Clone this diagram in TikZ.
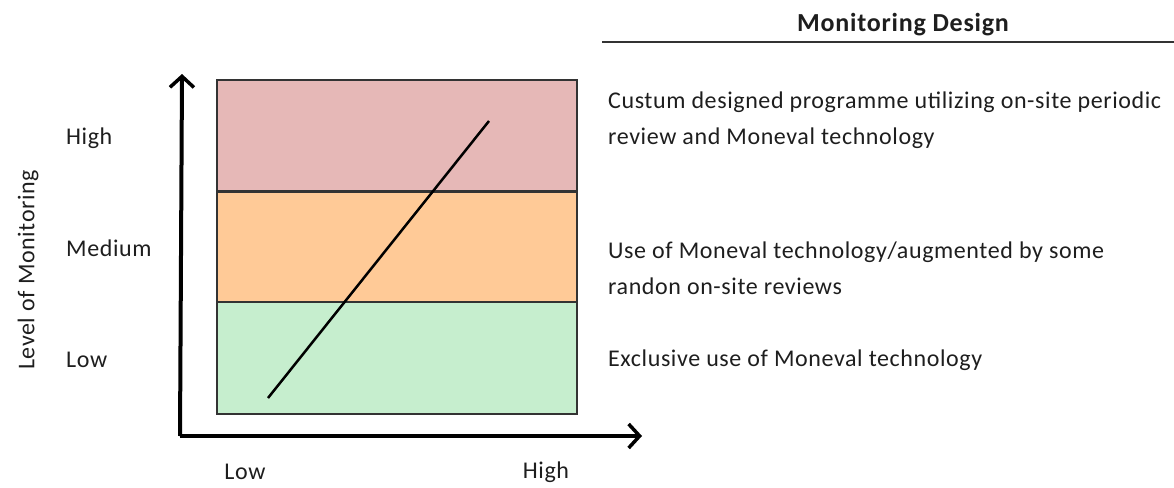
\documentclass[tikz,border=0pt]{standalone}
\usepackage{fontspec}
\setmainfont{Carlito}[LetterSpace=2.5]
\newfontfamily\titlefont{Carlito}[LetterSpace=3]
\usetikzlibrary{arrows.meta}
\definecolor{bandhigh}{HTML}{E6B8B7}
\definecolor{bandmed}{HTML}{FFCA97}
\definecolor{bandlow}{HTML}{C6EECE}
\definecolor{txt}{HTML}{1E1E1E}
\begin{document}
\begin{tikzpicture}[x=1pt,y=-1pt,
  band/.style={draw=black!80, line width=1.3pt, minimum width=360pt, minimum height=111pt, anchor=north west, inner sep=0pt, outer sep=0pt},
  lbl/.style={font=\fontsize{24}{28}\selectfont, text=txt, inner sep=0pt},
  desc/.style={font=\fontsize{24}{36}\selectfont, text=txt, inner sep=0pt, anchor=west, align=left},
  axis/.style={line width=4pt, -{Straight Barb[length=11pt,width=24pt,line width=3.5pt]}}]
\useasboundingbox (0,0) rectangle (1174,487);
% bands
\node[band, fill=bandhigh] (bh) at (217,80) {};
\node[band, fill=bandmed, minimum height=110pt] (bm) at (217,192) {};
\node[band, fill=bandlow, minimum height=112pt] (bl) at (217,302) {};
% trend line
\coordinate (t0) at (268,398);
\coordinate (t1) at (489,121);
\draw[line width=2.5pt] (t0) -- (t1);
% axes
\coordinate (o) at (182,436);
\coordinate (ytip) at (182,74);
\coordinate (xtip) at (642,436);
\draw[axis] ([xshift=-2pt]o) -- (ytip);
\draw[axis] ([xshift=-2pt]o) -- (xtip);
% axis labels
\node[lbl, anchor=west] (yh) at (66,138) {High};
\node[lbl, anchor=west] (ym) at (66,248) {Medium};
\node[lbl, anchor=west] (yl) at (66,360) {Low};
\node[lbl, rotate=90] (ytitle) at (28,270) {Level of Monitoring};
\node[lbl] (xl) at (245,472) {Low};
\node[lbl] (xh) at (546,472) {High};
% title
\node[lbl, font=\titlefont\fontsize{26}{30}\selectfont\bfseries] (title) at (903,25) {Monitoring Design};
\coordinate (r0) at (602,42);
\coordinate (r1) at (1174,42);
\draw[line width=1.5pt, black!80] (r0) -- (r1);
% descriptions
\node[desc] (dh) at (608,120) {Custum designed programme utilizing on-site periodic\\review and Moneval technology};
\node[desc] (dm) at (608,268) {Use of Moneval technology/augmented by some\\randon on-site reviews};
\node[desc] (dl) at (608,360) {Exclusive use of Moneval technology};
\end{tikzpicture}
\end{document}
